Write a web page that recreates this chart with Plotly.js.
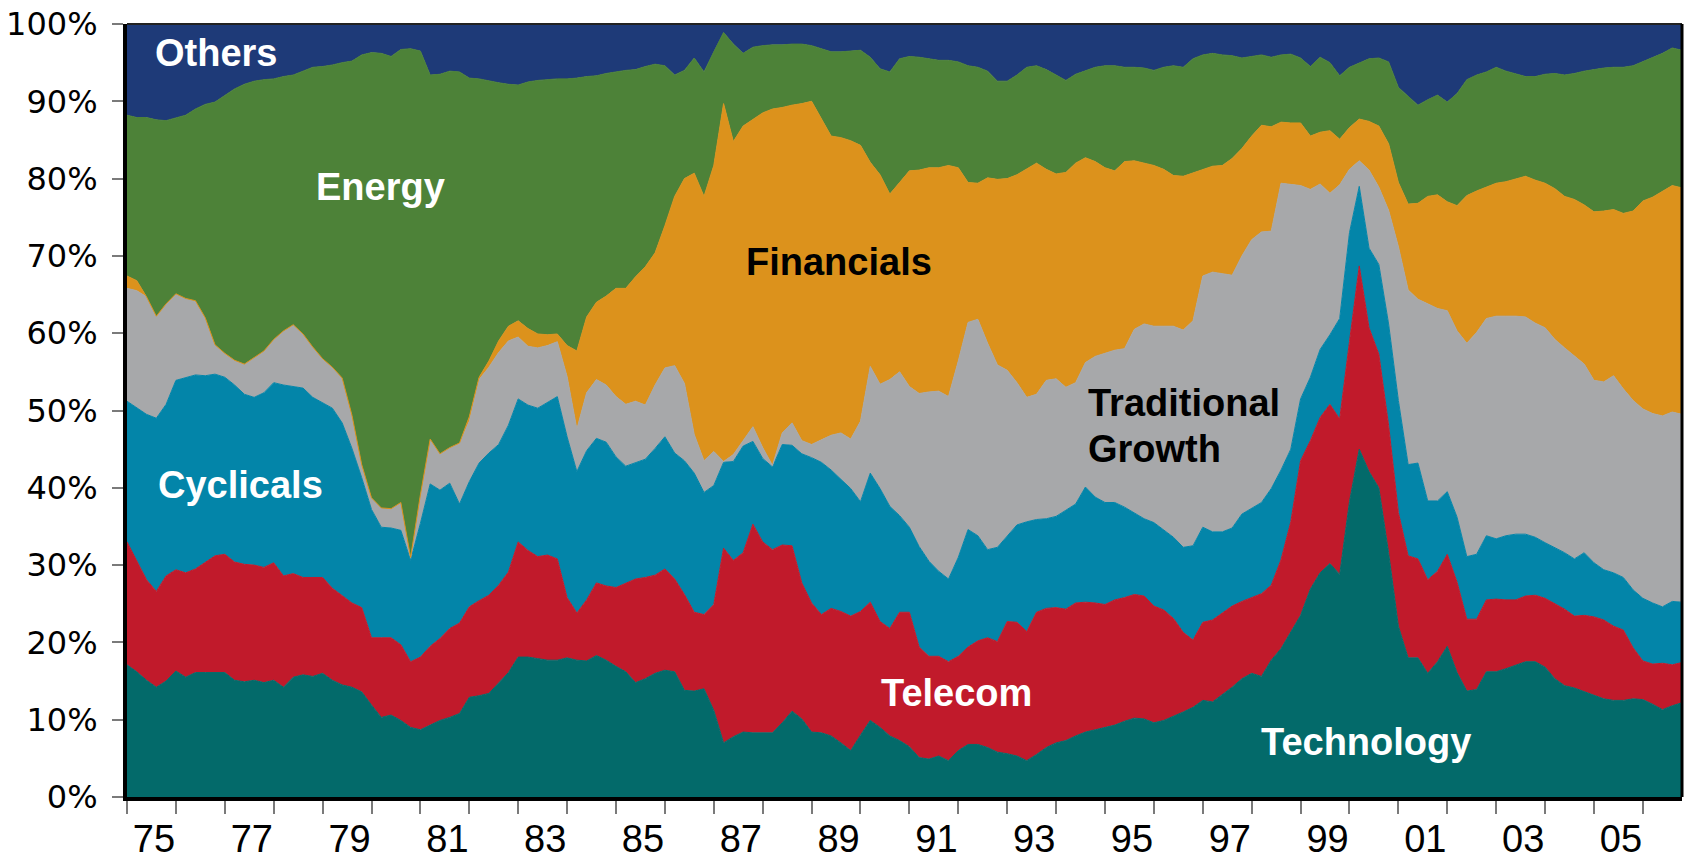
<!DOCTYPE html>
<html>
<head>
<meta charset="utf-8">
<script src="https://cdn.plot.ly/plotly-3.0.1.min.js"></script>
<style>
  html, body { margin: 0; padding: 0; background: #ffffff; }
  #chart { width: 1688px; height: 861px; }
</style>
</head>
<body>
<div id="chart"></div>
<script>
// Time grid: every 0.2 year from 1975.0 to 2006.8
const years = Array.from({ length: 160 }, (_, i) => +(1975 + i * 0.2).toFixed(1));

// Cumulative upper boundaries (% of market cap), bottom to top
const upperTechnology = [
17.1,16.2,15.1,14.2,15.0, 16.3,15.5,16.1,16.1,16.1, 16.1,15.1,14.9,15.1,14.8, 15.1,14.2,15.5,15.8,15.6,
16.0,15.1,14.5,14.2,13.6, 11.9,10.3,10.6,9.9,9.0, 8.7,9.3,9.9,10.3,10.8, 12.9,13.1,13.4,14.7,16.1,
18.1,18.1,17.9,17.7,17.7, 18.0,17.7,17.6,18.3,17.7, 16.9,16.2,14.8,15.3,16.0, 16.4,16.2,13.8,13.7,14.0,
11.2,7.0,7.8,8.4,8.3, 8.3,8.3,9.6,11.1,10.1, 8.4,8.3,7.9,7.0,6.0, 8.0,9.9,9.0,7.9,7.3,
6.5,5.1,4.9,5.3,4.7, 6.0,6.8,6.8,6.4,5.8, 5.6,5.3,4.7,5.5,6.4, 7.0,7.3,7.9,8.4,8.7,
9.0,9.3,9.8,10.2,10.1, 9.6,9.9,10.4,11.0,11.6, 12.5,12.3,13.2,14.2,15.3, 16.0,15.6,17.7,19.2,21.3,
23.5,26.9,29.0,30.2,28.8, 38.2,45.0,42.1,40.0,31.6, 22.1,18.0,18.0,16.0,17.5, 19.5,16.1,13.7,13.9,16.2,
16.2,16.6,17.0,17.5,17.5, 16.8,15.3,14.4,14.1,13.6, 13.1,12.7,12.5,12.5,12.7, 12.6,12.0,11.3,11.8,12.2
];
const upperTelecom = [
33.0,30.6,28.1,26.6,28.6, 29.4,29.0,29.5,30.4,31.2, 31.4,30.4,30.1,30.0,29.7, 30.3,28.6,28.9,28.4,28.4,
28.4,27.0,26.1,25.1,24.5, 20.6,20.6,20.6,19.7,17.5, 18.1,19.5,20.5,21.8,22.5, 24.6,25.4,26.1,27.4,29.1,
33.0,31.9,31.1,31.3,30.8, 25.8,23.8,25.5,27.7,27.3, 27.1,27.6,28.2,28.4,28.7, 29.5,28.2,26.2,23.9,23.6,
24.9,32.2,30.6,31.6,35.3, 33.0,32.0,32.6,32.5,27.7, 25.1,23.6,24.4,24.0,23.4, 24.0,25.2,22.7,21.8,23.9,
23.9,19.4,18.2,18.2,17.5, 18.2,19.4,20.2,20.6,20.1, 22.7,22.6,21.4,23.9,24.4, 24.5,24.3,25.1,25.2,25.1,
24.9,25.5,25.8,26.2,26.0, 24.7,24.2,23.1,21.3,20.3, 22.6,22.9,23.8,24.7,25.3, 25.8,26.3,27.4,30.7,35.6,
43.5,46.1,49.1,50.8,48.9, 58.9,68.7,60.7,57.3,48.1, 36.8,31.2,30.8,28.1,29.2, 31.4,27.8,23.0,23.0,25.5,
25.6,25.5,25.5,26.0,26.1, 25.7,25.0,24.3,23.4,23.5, 23.3,22.9,22.1,21.6,19.3, 17.6,17.2,17.3,17.1,17.4
];
const upperCyclicals = [
51.2,50.3,49.5,49.0,50.8, 53.9,54.2,54.6,54.5,54.7, 54.3,53.3,52.1,51.7,52.3, 53.6,53.3,53.1,52.9,51.7,
51.0,50.3,48.4,45.1,41.3, 37.2,34.9,34.8,34.5,30.6, 35.4,40.5,39.7,40.6,37.9, 40.8,43.2,44.5,45.6,48.1,
51.5,50.7,50.3,51.1,51.8, 46.6,42.1,44.8,46.4,45.9, 44.0,42.8,43.3,43.7,45.1, 46.6,44.5,43.5,41.9,39.4,
40.3,43.3,43.4,45.4,46.0, 43.8,42.7,45.6,45.5,44.4, 43.9,43.3,42.3,41.1,39.9, 38.2,41.9,39.9,37.6,36.4,
34.9,32.4,30.5,29.2,28.2, 31.0,34.6,33.8,32.0,32.3, 33.8,35.2,35.6,35.9,36.0, 36.3,37.1,37.9,40.1,38.8,
38.1,38.1,37.5,36.8,36.0, 35.5,34.5,33.6,32.3,32.5, 34.9,34.3,34.3,34.8,36.6, 37.3,38.1,39.9,42.3,45.0,
51.5,54.3,57.9,59.8,61.9, 73.0,79.0,71.0,68.9,61.2, 51.3,43.0,43.2,38.3,38.3, 39.5,36.2,31.1,31.4,33.8,
33.4,33.8,34.0,34.0,33.6, 32.9,32.3,31.6,30.8,31.6, 30.3,29.4,29.0,28.4,26.8, 25.7,25.1,24.6,25.3,25.2
];
const upperGrowth = [
65.8,65.5,64.7,62.2,63.8, 65.1,64.5,64.2,62.0,58.5, 57.4,56.5,56.0,56.9,57.7, 59.2,60.3,61.1,59.9,58.2,
56.7,55.6,54.2,49.4,43.0, 38.7,37.4,37.3,38.1,31.0, 39.1,46.3,44.4,45.2,45.8, 48.6,54.0,55.6,57.5,59.0,
59.5,58.3,58.1,58.4,58.9, 54.4,47.6,52.3,54.0,53.3, 51.8,50.8,51.2,50.7,53.3, 55.5,55.8,53.5,46.9,43.5,
44.7,43.4,44.3,46.1,47.9, 45.2,42.9,47.1,48.4,46.1, 45.6,46.2,46.8,47.1,46.3, 48.6,55.7,53.4,54.0,55.0,
53.1,52.2,52.4,52.5,51.8, 56.4,61.4,61.8,58.7,55.9, 55.2,53.6,51.7,52.1,53.9, 54.1,53.0,53.6,56.2,57.0,
57.4,57.8,58.0,60.5,61.2, 60.9,60.9,60.9,60.4,61.6, 67.4,67.9,67.7,67.5,70.0, 72.1,73.1,73.2,79.4,79.2,
79.1,78.6,79.3,78.1,79.2, 81.2,82.3,81.1,78.9,75.9, 71.2,65.6,64.4,63.8,63.2, 62.9,60.3,58.7,60.1,61.9,
62.2,62.2,62.2,62.1,61.3, 60.7,59.2,58.1,57.0,56.0, 53.9,53.7,54.5,52.8,51.3, 50.2,49.6,49.3,49.8,49.5
];
const upperFinancials = [
67.4,66.8,64.7,62.2,63.8, 65.1,64.5,64.2,62.0,58.5, 57.4,56.5,56.0,56.9,57.7, 59.2,60.3,61.1,59.9,58.2,
56.7,55.6,54.2,49.4,43.0, 38.7,37.4,37.3,38.1,31.0, 39.1,46.3,44.4,45.2,45.8, 49.2,54.3,56.4,59.0,60.9,
61.6,60.6,59.9,59.8,59.9, 58.4,57.7,62.1,64.0,64.8, 65.8,65.8,67.3,68.6,70.4, 73.9,77.7,80.0,80.7,77.7,
81.7,89.7,84.8,86.8,87.7, 88.5,89.0,89.2,89.5,89.7, 90.0,87.8,85.5,85.3,84.9, 84.3,82.1,80.5,78.0,79.5,
81.0,81.1,81.4,81.4,81.7, 81.4,79.5,79.4,80.1,79.9, 80.0,80.5,81.2,82.0,81.2, 80.6,80.8,82.0,82.7,82.2,
81.4,81.0,82.2,82.3,82.0, 81.7,81.2,80.4,80.3,80.7, 81.2,81.6,81.7,82.6,83.9, 85.5,86.9,86.7,87.3,87.2,
87.2,85.5,86.0,86.2,85.1, 86.6,87.7,87.4,86.8,84.5, 79.5,76.7,76.8,77.7,77.9, 77.0,76.5,77.8,78.4,78.9,
79.4,79.6,80.0,80.3,79.8, 79.4,78.7,77.7,77.3,76.6, 75.7,75.8,76.0,75.5,75.8, 77.1,77.6,78.4,79.1,78.8
];
const upperEnergy = [
88.2,87.9,87.9,87.6,87.5, 87.9,88.2,89.0,89.6,89.9, 90.8,91.6,92.2,92.6,92.8, 92.9,93.2,93.4,93.9,94.4,
94.5,94.7,95.0,95.2,96.0, 96.3,96.2,95.8,96.7,96.8, 96.5,93.4,93.5,93.9,93.8, 93.0,92.9,92.6,92.4,92.2,
92.1,92.5,92.7,92.8,92.9, 92.9,93.0,93.2,93.3,93.6, 93.8,94.0,94.1,94.5,94.8, 94.6,93.4,94.0,95.6,93.8,
96.4,98.9,97.4,96.2,97.0, 97.2,97.3,97.3,97.4,97.4, 97.2,96.8,96.4,96.4,96.5, 96.6,95.7,94.2,93.8,95.5,
95.8,95.7,95.5,95.3,95.3, 95.1,94.6,94.4,93.9,92.6, 92.6,93.4,94.4,94.6,94.1, 93.4,92.7,93.5,94.0,94.4,
94.6,94.6,94.4,94.4,94.3, 94.0,94.4,94.6,94.4,95.5, 96.0,96.2,96.0,95.9,95.6, 95.8,96.0,95.7,96.0,96.1,
95.6,94.5,95.7,95.0,93.3, 94.4,95.0,95.5,95.6,95.1, 91.8,90.6,89.5,90.2,90.8, 89.9,91.0,92.8,93.4,93.8,
94.4,93.9,93.6,93.2,93.2, 93.5,93.6,93.4,93.6,93.9, 94.1,94.3,94.4,94.4,94.6, 95.1,95.6,96.2,96.9,96.6
];

const sectors = ['Technology', 'Telecom', 'Cyclicals', 'Traditional Growth', 'Financials', 'Energy', 'Others'];
const colors  = ['#036A6A', '#C11A2B', '#0385A9', '#A7A8AA', '#DC921C', '#4D8238', '#1E3A78'];

// X-axis: a tick at every year, two-digit labels on odd years (centred within the year)
const tickYears  = [1975,1976,1977,1978,1979,1980,1981,1982,1983,1984,1985,1986,1987,1988,1989,1990,
                    1991,1992,1993,1994,1995,1996,1997,1998,1999,2000,2001,2002,2003,2004,2005,2006];
const tickLabels = ['75','','77','','79','','81','','83','','85','','87','','89','',
                    '91','','93','','95','','97','','99','','01','','03','','05',''];

// Sector shares derived from the stacked boundaries
const uppers = [upperTechnology, upperTelecom, upperCyclicals, upperGrowth, upperFinancials, upperEnergy];
const shares = sectors.map((name, k) => years.map((_, i) => {
  const top = k < uppers.length ? uppers[k][i] : 100;
  const bottom = k === 0 ? 0 : uppers[k - 1][i];
  return Math.max(0, +(top - bottom).toFixed(2));
}));

const traces = sectors.map((name, k) => ({
  type: 'scatter',
  mode: 'lines',
  name: name,
  x: years,
  y: shares[k],
  stackgroup: 'sectors',
  line: { width: 1, color: colors[k], shape: 'linear' },
  fillcolor: colors[k],
  hovertemplate: name + ': %{y:.1f}%<extra></extra>'
}));

const white = '#ffffff', black = '#000000';
const annFont = (c) => ({ family: 'Liberation Sans, Arial, sans-serif', size: 38, color: c, weight: 700 });

const xMin = 1975, xMax = 2006.8;
const plotLeft = 127, plotRight = 6;

const layout = {
  width: 1688,
  height: 861,
  margin: { l: plotLeft, r: plotRight, t: 24, b: 64 },
  paper_bgcolor: '#ffffff',
  plot_bgcolor: '#ffffff',
  showlegend: false,
  xaxis: {
    range: [xMin, xMax],
    tickmode: 'array',
    tickvals: tickYears,
    ticktext: tickLabels,
    ticklabelshift: 27,
    ticklabelstandoff: -8,
    tickfont: { family: 'Liberation Sans, Arial, sans-serif', size: 38, color: black },
    ticks: 'outside', ticklen: 13, tickwidth: 2, tickcolor: '#7a7a7a',
    showline: true, linecolor: black, linewidth: 4,
    showgrid: false, zeroline: false
  },
  yaxis: {
    range: [0, 100],
    tickmode: 'array',
    tickvals: [0, 10, 20, 30, 40, 50, 60, 70, 80, 90, 100],
    ticktext: ['0%', '10%', '20%', '30%', '40%', '50%', '60%', '70%', '80%', '90%', '100%'],
    ticks: 'outside', ticklen: 11, tickwidth: 2, tickcolor: '#7a7a7a',
    ticklabelstandoff: 8,
    tickfont: { family: 'DejaVu Sans, sans-serif', size: 32, color: black },
    showline: true, linecolor: black, linewidth: 4,
    showgrid: false, zeroline: false
  },
  shapes: [
    { type: 'line', xref: 'paper', yref: 'paper', x0: 0, x1: 1, y0: 1, y1: 1, line: { color: '#222', width: 2 } },
    { type: 'line', xref: 'paper', yref: 'paper', x0: 1, x1: 1, y0: 0, y1: 1, line: { color: black, width: 3 } }
  ],
  annotations: [
    { x: 1976.81, y: 96.2, text: 'Others', font: annFont(white) },
    { x: 1980.19, y: 78.9, text: 'Energy', font: annFont(white) },
    { x: 1989.56, y: 69.2, text: 'Financials', font: annFont(black) },
    { x: 1994.62, y: 51.0, text: 'Traditional', font: annFont(black), xanchor: 'left' },
    { x: 1994.62, y: 45.0, text: 'Growth', font: annFont(black), xanchor: 'left' },
    { x: 1977.33, y: 40.4, text: 'Cyclicals', font: annFont(white) },
    { x: 1991.97, y: 13.4, text: 'Telecom', font: annFont(white) },
    { x: 2000.33, y: 7.1, text: 'Technology', font: annFont(white) }
  ].map(a => Object.assign({ xref: 'x', yref: 'y', showarrow: false, xanchor: 'center', yanchor: 'middle' }, a))
};

Plotly.newPlot('chart', traces, layout, { displayModeBar: false, staticPlot: true });
</script>
</body>
</html>
